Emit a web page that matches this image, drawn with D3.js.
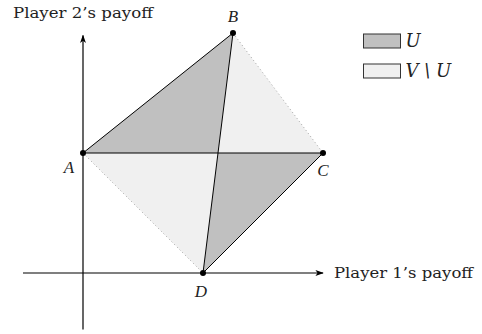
<!DOCTYPE html>
<html>
<head>
<meta charset="utf-8" />
<script src="https://d3js.org/d3.v7.min.js"></script>
<style>
  body { margin: 0; background: #fff; }
  text { font-family: "DejaVu Serif", "Liberation Serif", serif; fill: #222; }
  .pt { font-family: "Liberation Serif", serif; font-style: italic; font-size: 17px; }
</style>
</head>
<body>
<svg id="chart"></svg>
<script>
var width = 482, height = 334;

// payoff points (player 1, player 2)
var names = ["A", "B", "C", "D"];
var p1 = [0, 1.25, 2, 1];
var p2 = [1, 2, 1, 0];
var labelDx = [-14, 0, 0, -2];
var labelDy = [20, -11, 23, 24];
var axisMin = [-0.5, -0.47];
var axisMax = [2.0, 1.98];
var legendLabels = ["U", "V \\ U"];
var legendFills = ["#c0c0c0", "#f0f0f0"];

var svg = d3.select("#chart").attr("width", width).attr("height", height);

var x = d3.scaleLinear().domain([0, 2]).range([83, 323]);
var y = d3.scaleLinear().domain([0, 2]).range([273, 33]);

var pts = names.map(function(n, i) { return { name: n, x: p1[i], y: p2[i] }; });
var A = pts[0], B = pts[1], C = pts[2], D = pts[3];

// intersection of BD with AC (horizontal line y = A.y)
var t = (B.y - A.y) / (B.y - D.y);
var P = { x: B.x + (D.x - B.x) * t, y: A.y };

var line = d3.line().x(function(d) { return x(d.x); }).y(function(d) { return y(d.y); });

svg.append("defs").append("marker")
  .attr("id", "arr").attr("viewBox", "0 0 10 10").attr("refX", 9).attr("refY", 5)
  .attr("markerWidth", 7).attr("markerHeight", 7).attr("orient", "auto")
  .append("path").attr("d", "M0,1.5 L10,5 L0,8.5 L2.5,5 Z").attr("fill", "#000");

// regions
var regions = [
  { pts: [A, B, P], fill: legendFills[0] },
  { pts: [P, C, D], fill: legendFills[0] },
  { pts: [B, C, P], fill: legendFills[1] },
  { pts: [A, P, D], fill: legendFills[1] }
];
svg.selectAll(".region").data(regions).enter().append("path")
  .attr("class", "region")
  .attr("d", function(d) { return line(d.pts) + "Z"; })
  .attr("fill", function(d) { return d.fill; });

// axes
svg.append("line")
  .attr("x1", x(axisMin[0])).attr("x2", x(axisMax[0]))
  .attr("y1", y(0)).attr("y2", y(0))
  .attr("stroke", "#000").attr("stroke-width", 1.2).attr("marker-end", "url(#arr)");
svg.append("line")
  .attr("x1", x(0)).attr("x2", x(0))
  .attr("y1", y(axisMin[1])).attr("y2", y(axisMax[1]))
  .attr("stroke", "#000").attr("stroke-width", 1.2).attr("marker-end", "url(#arr)");

// solid edges
var solid = [[A, B], [A, C], [B, D], [C, D]];
svg.selectAll(".edge").data(solid).enter().append("path")
  .attr("class", "edge").attr("d", line)
  .attr("fill", "none").attr("stroke", "#000").attr("stroke-width", 1);

// dotted edges
var dotted = [[A, D], [B, C]];
svg.selectAll(".dot-edge").data(dotted).enter().append("path")
  .attr("class", "dot-edge").attr("d", line)
  .attr("fill", "none").attr("stroke", "#777").attr("stroke-width", 0.8)
  .attr("stroke-dasharray", "0.8,3");

// points
svg.selectAll(".pt-dot").data(pts).enter().append("circle")
  .attr("cx", function(d) { return x(d.x); })
  .attr("cy", function(d) { return y(d.y); })
  .attr("r", 3).attr("fill", "#000");

svg.selectAll(".pt").data(pts).enter().append("text")
  .attr("class", "pt")
  .attr("x", function(d, i) { return x(d.x) + labelDx[i]; })
  .attr("y", function(d, i) { return y(d.y) + labelDy[i]; })
  .attr("text-anchor", "middle")
  .text(function(d) { return d.name; });

// axis titles
svg.append("text").attr("x", 13).attr("y", 18).attr("font-size", 15)
  .attr("textLength", 140).attr("lengthAdjust", "spacingAndGlyphs")
  .text("Player 2\u2019s payoff");
svg.append("text").attr("x", 334).attr("y", 278).attr("font-size", 15)
  .attr("textLength", 139).attr("lengthAdjust", "spacingAndGlyphs")
  .text("Player 1\u2019s payoff");

// legend
var leg = svg.selectAll(".leg").data(legendLabels).enter().append("g")
  .attr("transform", function(d, i) { return "translate(363.5," + (34 + i * 30) + ")"; });
leg.append("rect").attr("width", 37).attr("height", 14)
  .attr("fill", function(d, i) { return legendFills[i]; })
  .attr("stroke", "#333").attr("stroke-width", 1);
leg.append("text").attr("x", 42).attr("y", 13).attr("font-size", 18)
  .attr("font-family", "Liberation Serif, serif")
  .attr("font-style", "italic").text(function(d) { return d; });
</script>
</body>
</html>
